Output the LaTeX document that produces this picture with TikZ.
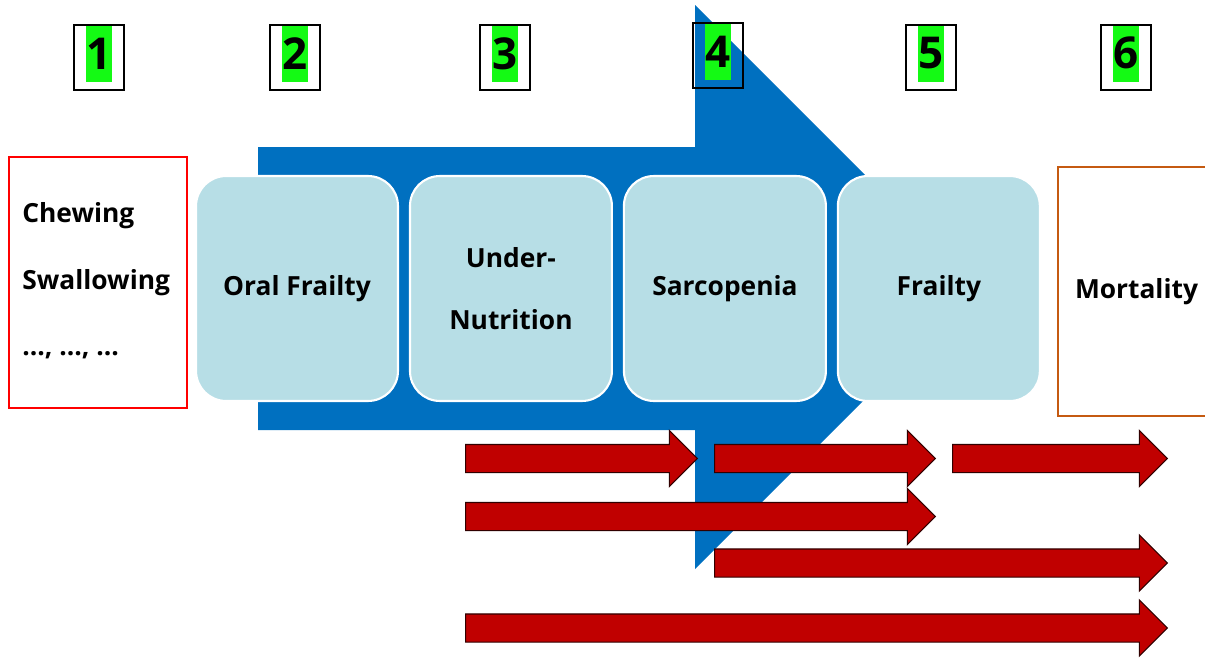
\documentclass[tikz,border=0pt]{standalone}
\usepackage{fontspec}
\setmainfont{Open Sans}
\usepackage{tikz}
\definecolor{paleblue}{RGB}{183,222,230}
\definecolor{flowblue}{RGB}{0,112,192}
\definecolor{darkred}{RGB}{192,0,0}
\definecolor{rust}{RGB}{197,90,17}
\definecolor{marker}{RGB}{20,250,20}
\usetikzlibrary{shapes.arrows}
\tikzstyle{stage} = [rectangle, rounded corners=0.6cm, minimum width=4.04cm, minimum height=4.5cm, text centered, align=center, draw=white, line width=1.2pt, fill=paleblue, font=\bfseries\fontsize{15}{35}\selectfont]
\tikzstyle{listitem} = [inner sep=0pt, anchor=west, font=\bfseries\fontsize{15}{19}\selectfont]
\tikzstyle{frame} = [rectangle, draw=black, line width=1.1pt, minimum width=1cm, minimum height=1.3cm, anchor=north]
\tikzstyle{marked} = [rectangle, fill=marker, inner sep=0pt, minimum width=0.5cm, minimum height=1.16cm, anchor=north, font=\bfseries\fontsize{25}{30}\selectfont]
\tikzstyle{redarrow} = [single arrow, single arrow head extend=0.28cm, inner xsep=0pt, inner ysep=0.27cm, anchor=tail, fill=darkred, draw=black!75!darkred, line width=0.6pt]

\begin{document}
\begin{tikzpicture}[x=0.02cm, y=-0.02cm, node distance=4.28cm]
        \useasboundingbox (0,0) rectangle (1205,659);
        % big blue arrow behind the stages
        \fill [flowblue] (258,147) -- (695,147) -- (695,5) -- (977,287) -- (695,569) -- (695,430) -- (258,430) -- cycle;

        \node (box1) [stage] at (297,288.5) {Oral Frailty};
        \node (box2) [stage, right of=box1] {Under-\\Nutrition};
        \node (box3) [stage, right of=box2] {Sarcopenia};
        \node (box4) [stage, right of=box3] {Frailty};

        \node (causes) [rectangle, draw=red, line width=1.2pt, minimum width=3.56cm, minimum height=5.02cm] at (98,282.5) {};
        \node (chew) [listitem] at (22,216) {Chewing};
        \node (swallow) [listitem] at (22,283) {Swallowing};
        \node (more) [listitem] at (22,355) {\dots, \dots, \dots};

        \node (mortality) [rectangle, draw=rust, line width=1.2pt, minimum width=3.14cm, minimum height=4.98cm, font=\bfseries\fontsize{15}{19}\selectfont] at (1136.5,291.5) {Mortality};

        \node (tag1) [marked] at (99,24) {1};
        \node (num1) [frame] at (99,24) {};
        \node (tag2) [marked] at (295,24) {2};
        \node (num2) [frame] at (295,24) {};
        \node (tag3) [marked] at (505,24) {3};
        \node (num3) [frame] at (505,24) {};
        \node (tag4) [marked] at (718,22) {4};
        \node (num4) [frame] at (718,22) {};
        \node (tag5) [marked] at (931,24) {5};
        \node (num5) [frame] at (931,24) {};
        \node (tag6) [marked] at (1126,24) {6};
        \node (num6) [frame] at (1126,24) {};

        \node (arrow1) [redarrow, minimum height=4.64cm] at (465,458.5) {};
        \node (arrow2) [redarrow, minimum height=4.42cm] at (714,458.5) {};
        \node (arrow3) [redarrow, minimum height=4.3cm] at (952,458.5) {};
        \node (arrow4) [redarrow, minimum height=9.4cm] at (465,516.5) {};
        \node (arrow5) [redarrow, minimum height=9.06cm] at (714,563) {};
        \node (arrow6) [redarrow, minimum height=14.04cm] at (465,628) {};
    \end{tikzpicture}
\end{document}
